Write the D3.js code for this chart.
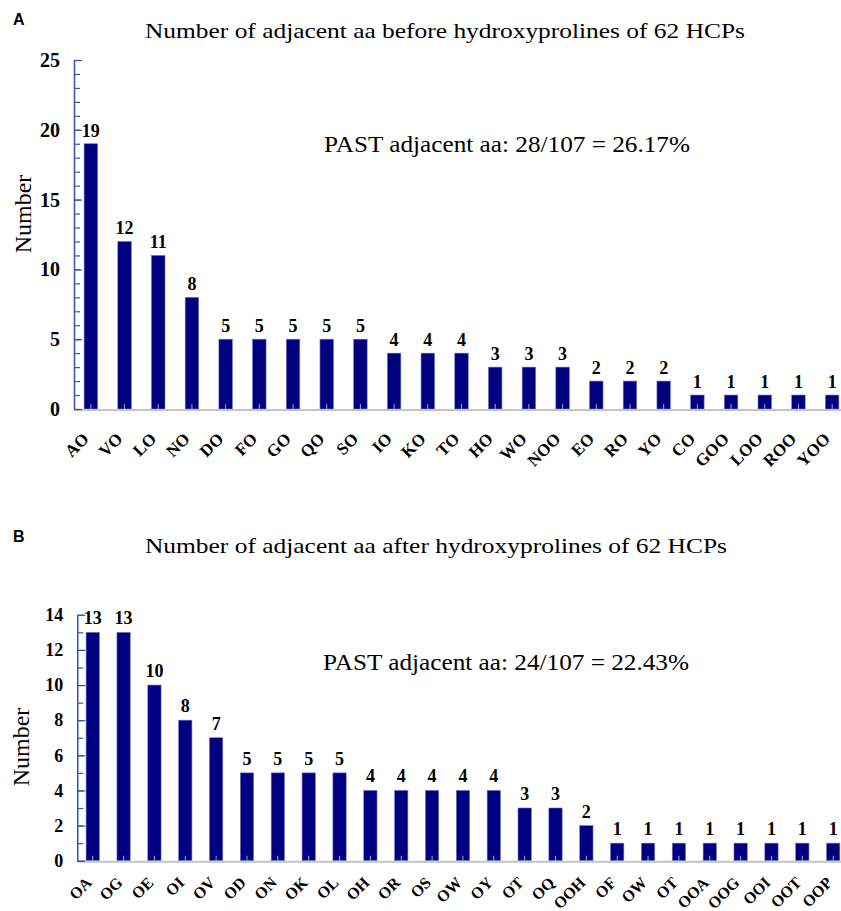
<!DOCTYPE html>
<html>
<head>
<meta charset="utf-8">
<script src="https://cdn.jsdelivr.net/npm/d3@7"></script>
<style>
  html, body { margin: 0; padding: 0; background: #fff; }
  svg { display: block; }
  text { font-family: "Liberation Serif", "Times New Roman", serif; }
</style>
</head>
<body>
<svg id="chart" width="841" height="911"></svg>
<script>
// ---- Data ----
const catsA = ["AO","VO","LO","NO","DO","FO","GO","QO","SO","IO","KO","TO","HO","WO","NOO","EO","RO","YO","CO","GOO","LOO","ROO","YOO"];
const valsA = [19,12,11,8,5,5,5,5,5,4,4,4,3,3,3,2,2,2,1,1,1,1,1];
const ticksA = [0,5,10,15,20,25];

const catsB = ["OA","OG","OE","OI","OV","OD","ON","OK","OL","OH","OR","OS","OW","OY","OT","OQ","OOH","OF","OW","OT","OOA","OOG","OOI","OOT","OOP"];
const valsB = [13,13,10,8,7,5,5,5,5,4,4,4,4,4,3,3,2,1,1,1,1,1,1,1,1];
const ticksB = [0,2,4,6,8,10,12,14];

const titleA = "Number of adjacent aa before hydroxyprolines of 62 HCPs";
const titleB = "Number of adjacent aa after hydroxyprolines of 62 HCPs";
const noteA = "PAST adjacent aa: 28/107 = 26.17%";
const noteB = "PAST adjacent aa: 24/107 = 22.43%";

const svg = d3.select("#chart");
const BAR = "#000080";
const AXIS = "#3355aa";
const BASE = "#c4c4c4";

function panel(cfg) {
  const g = svg.append("g");
  const idx = d3.range(cfg.cats.length);
  const x = d3.scaleBand().domain(idx).range([cfg.x0, cfg.x1])
    .paddingInner(cfg.pin).paddingOuter(cfg.pin / 2);
  const y = d3.scaleLinear().domain([0, cfg.max]).range([cfg.y0, cfg.y1]);

  // panel letter
  g.append("text").attr("x", 13).attr("y", cfg.letterY)
    .style("font-family", "'Liberation Sans', Arial, sans-serif")
    .style("font-weight", "bold").style("font-size", "16px").text(cfg.letter);

  // title
  g.append("text").attr("x", cfg.titleX).attr("y", cfg.titleY)
    .attr("textLength", cfg.titleW).attr("lengthAdjust", "spacingAndGlyphs")
    .style("font-size", "22px").text(cfg.title);

  // annotation
  g.append("text").attr("x", cfg.noteX).attr("y", cfg.noteY)
    .attr("textLength", cfg.noteW).attr("lengthAdjust", "spacingAndGlyphs")
    .style("font-size", "23px").text(cfg.note);

  // y label
  g.append("text")
    .attr("transform", `translate(${cfg.ylabX},${cfg.ylabY}) rotate(-90)`)
    .attr("text-anchor", "middle").style("font-size", "24px").text("Number");

  // bars
  g.selectAll("rect.bar").data(cfg.vals).join("rect")
    .attr("class", "bar")
    .attr("x", (d, i) => x(i))
    .attr("width", x.bandwidth())
    .attr("y", d => y(d))
    .attr("height", d => y(0) - y(d))
    .attr("fill", BAR)
    .attr("stroke", "#6677c4").attr("stroke-width", 0.6);

  // x axis (baseline + small ticks inside bars)
  const xa = d3.axisBottom(x).tickSize(-5).tickSizeOuter(0).tickFormat("");
  const gx = g.append("g").attr("transform", `translate(0,${y(0)})`).call(xa);
  gx.select(".domain").remove();
  gx.selectAll(".tick line").attr("stroke", "#9aa6d6").attr("stroke-width", 1);
  g.append("line").attr("x1", cfg.x0).attr("x2", 841)
    .attr("y1", y(0) + 1).attr("y2", y(0) + 1)
    .attr("stroke", BASE).attr("stroke-width", 2);

  // x labels
  g.selectAll("text.xl").data(cfg.cats).join("text")
    .attr("class", "xl")
    .attr("transform", (d, i) =>
      `translate(${x(i) + x.bandwidth() / 2 + cfg.xlabDx},${y(0) + cfg.xlabDy}) rotate(-45)`)
    .attr("text-anchor", "end")
    .style("font-weight", "bold").style("font-size", cfg.xlabFont)
    .text(d => d);

  // y axis: minor ticks, major ticks, labels
  const minor = d3.range(0, cfg.max + 1);
  const gyMinor = g.append("g").attr("transform", `translate(${cfg.x0},0)`)
    .call(d3.axisRight(y).tickValues(minor).tickSize(6).tickSizeOuter(0).tickFormat(""));
  const gyMajor = g.append("g").attr("transform", `translate(${cfg.x0},0)`)
    .call(d3.axisRight(y).tickValues(cfg.ticks).tickSize(8).tickSizeOuter(0).tickFormat(""));
  gyMajor.select(".domain").remove();
  [gyMinor, gyMajor].forEach(a => {
    a.selectAll("line").attr("stroke", AXIS).attr("stroke-width", 1.2);
    a.selectAll(".domain").attr("stroke", AXIS).attr("stroke-width", 1.5);
  });
  const gyLab = g.append("g").attr("transform", `translate(${cfg.x0},0)`)
    .call(d3.axisLeft(y).tickValues(cfg.ticks).tickSize(0).tickPadding(cfg.tickPad));
  gyLab.select(".domain").remove();
  gyLab.selectAll("text")
    .style("font-family", "'Liberation Serif', 'Times New Roman', serif")
    .style("font-weight", "bold").style("font-size", cfg.tickFont).attr("fill", "#000");

  // value labels
  g.selectAll("text.vl").data(cfg.vals).join("text")
    .attr("class", "vl")
    .attr("x", (d, i) => x(i) + x.bandwidth() / 2)
    .attr("y", d => y(d) - cfg.vlGap)
    .attr("text-anchor", "middle")
    .style("font-weight", "bold").style("font-size", "18px")
    .text(d => d);
}

panel({
  letter: "A", letterY: 25, title: titleA, titleX: 145, titleY: 38, titleW: 600,
  note: noteA, noteX: 324, noteY: 152, noteW: 366,
  ylabX: 31, ylabY: 214,
  cats: catsA, vals: valsA, ticks: ticksA, max: 25,
  x0: 74, x1: 849, pin: 0.6, y0: 409, y1: 60,
  xlabDx: -1, xlabDy: 31, xlabFont: "17px", tickPad: 14, tickFont: "20px", vlGap: 7
});

panel({
  letter: "B", letterY: 542, title: titleB, titleX: 145, titleY: 553, titleW: 582,
  note: noteB, noteX: 323, noteY: 670, noteW: 366,
  ylabX: 29, ylabY: 747,
  cats: catsB, vals: valsB, ticks: ticksB, max: 14,
  x0: 77.3, x1: 848.6, pin: 0.57, y0: 860.7, y1: 614.8,
  xlabDx: 0, xlabDy: 23, xlabFont: "16px", tickPad: 14, tickFont: "18px", vlGap: 8
});
</script>
</body>
</html>
